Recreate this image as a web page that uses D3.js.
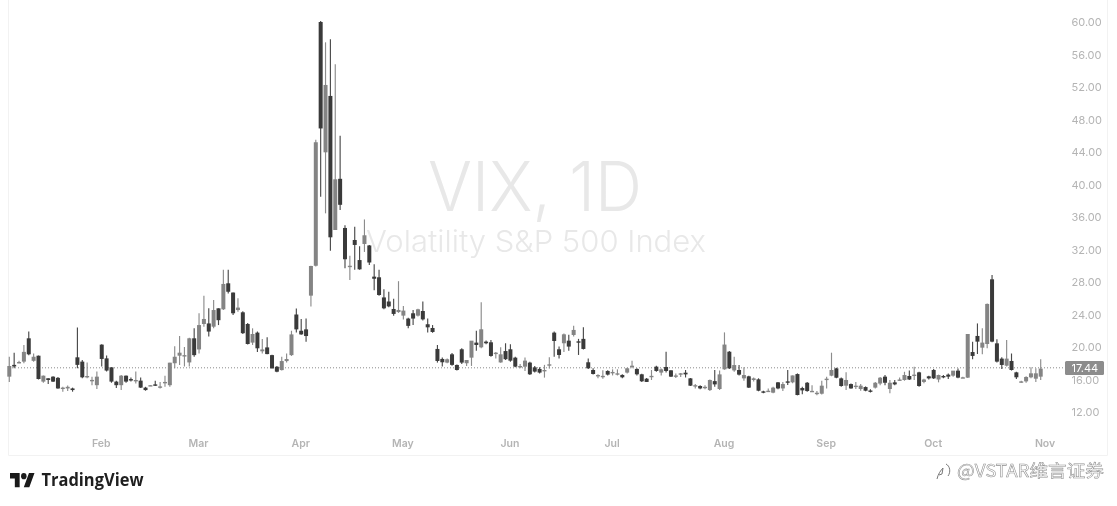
<!DOCTYPE html>
<html><head><meta charset="utf-8">
<script src="https://cdn.jsdelivr.net/npm/d3@7/dist/d3.min.js"></script>
<style>html,body{margin:0;padding:0;background:#fff;overflow:hidden}svg{display:block}</style>
</head><body><svg id="c" width="1117" height="506"></svg>
<script>
// Daily VIX candles, one entry per session, starting 7 Jan
const opens=[16.35,17.8,18.0,18.2,21.07,18.3,18.93,15.74,16.15,16.35,
16.2,14.9,14.9,14.9,18.73,18.2,16.27,15.85,15.3,20.29,
18.6,17.5,15.74,15.3,16.47,16.05,15.8,15.86,15.0,15.25,
15.4,15.1,15.6,15.3,18.0,18.93,18.9,18.1,21.07,19.7,
22.83,22.9,22.5,24.76,24.64,27.84,26.7,24.55,24.27,22.83,
20.54,21.77,19.47,19.95,19.0,17.57,17.16,18.27,19.0,24.0,
22.0,22.17,26.32,30.0,60.0,43.96,50.9,34.4,40.7,34.65,
29.9,33.17,30.7,32.68,32.5,28.66,28.58,26.1,25.6,24.68,
24.3,23.86,23.5,24.15,23.86,24.43,22.8,22.34,19.76,18.53,
18.08,19.1,17.79,19.72,18.0,18.69,20.54,19.96,20.66,20.58,
19.2,18.1,19.5,19.72,18.69,17.5,17.58,18.08,17.5,17.3,
17.05,17.78,21.77,19.72,20.46,20.78,21.48,20.7,21.0,18.12,
17.17,16.45,16.35,17.05,16.76,16.64,16.56,16.85,17.6,17.3,
16.64,16.1,16.35,17.58,16.85,17.54,17.13,16.4,16.63,16.84,
16.14,15.2,15.2,14.95,14.7,15.8,14.83,17.25,19.42,17.12,
17.17,16.14,16.39,15.94,16.02,14.54,14.55,14.38,15.65,14.9,
15.77,15.65,16.67,14.95,15.6,14.55,14.32,14.25,16.05,16.47,
17.37,16.14,15.24,15.44,15.18,14.83,15.07,14.65,15.0,15.5,
16.35,14.83,15.65,15.95,15.94,16.43,16.5,16.88,15.7,16.39,
17.17,16.0,16.43,16.6,16.47,17.09,16.22,16.23,19.38,21.36,
19.92,20.37,28.33,20.45,18.57,17.7,18.28,16.88,15.65,15.77,
16.27,16.1,16.35];
const highs=[18.8,19.3,18.3,20.25,21.9,19.2,18.95,16.5,16.15,16.4,
16.3,15.1,15.25,15.0,22.4,18.4,18.1,16.35,16.97,20.35,
18.95,17.5,15.85,16.55,16.5,16.25,17.0,16.25,15.1,15.3,
15.85,15.7,16.47,18.07,20.1,21.35,20.0,21.15,22.3,24.15,
26.3,24.76,25.8,24.76,29.5,29.5,26.7,26.0,24.4,22.95,
22.3,21.9,21.0,21.2,19.05,17.65,18.8,19.2,22.0,24.75,
23.44,23.5,30.0,45.5,60.13,57.5,57.87,54.8,46.0,35.0,
31.24,34.8,32.4,35.7,32.55,30.2,29.5,27.1,26.8,25.95,
28.1,25.05,23.6,24.55,24.7,25.6,23.5,22.7,20.25,18.7,
18.6,19.25,17.85,19.85,18.25,18.8,22.0,25.5,20.8,20.85,
19.4,19.96,20.46,20.35,18.8,17.9,18.7,18.2,17.65,17.5,
17.8,18.73,21.9,20.05,21.65,21.5,22.63,21.0,22.43,18.6,
17.4,16.65,17.15,17.15,17.25,17.25,16.65,17.45,18.3,17.4,
16.7,16.2,17.17,17.7,17.35,19.43,17.15,16.75,16.8,17.17,
16.2,15.45,15.3,15.3,16.0,17.17,17.1,21.8,19.5,18.8,
17.8,17.5,16.45,16.25,16.15,14.62,14.9,15.1,15.7,15.7,
17.17,16.5,16.75,15.1,15.7,15.3,14.6,15.85,16.35,19.3,
17.45,16.25,16.88,15.5,15.7,15.45,15.15,14.8,15.7,16.3,
16.55,15.95,15.95,16.25,16.95,17.1,17.58,16.95,16.1,16.45,
17.3,16.6,16.55,16.75,16.95,17.35,16.35,16.3,20.66,22.9,
22.3,25.35,28.86,20.95,18.75,20.86,19.2,16.95,15.85,16.4,
17.5,17.38,18.48];
const lows=[15.7,17.4,18.0,18.0,19.0,18.2,16.0,15.6,15.45,15.7,
14.85,14.5,14.6,14.5,17.4,16.15,16.15,15.3,14.83,17.6,
17.0,15.6,14.95,14.7,15.6,15.75,15.5,14.95,14.62,15.2,
15.2,14.9,15.1,15.1,17.4,17.8,17.6,17.6,18.8,19.2,
22.5,21.3,22.3,22.7,24.55,26.6,23.95,24.35,21.6,20.3,
20.25,19.4,19.2,19.1,17.35,16.9,17.1,18.1,18.9,21.8,
21.5,20.65,24.97,29.9,38.5,36.45,31.86,34.4,36.86,29.7,
28.25,29.5,29.5,31.7,30.1,27.0,26.3,24.65,24.9,23.85,
24.2,23.4,22.3,22.7,23.75,23.25,21.8,21.75,18.08,17.6,
18.0,17.68,17.1,17.9,17.67,17.67,19.55,19.85,20.35,18.8,
18.6,18.05,18.4,18.2,17.5,17.4,17.05,16.55,16.85,16.75,
16.23,17.34,18.8,18.6,19.4,19.55,21.3,19.02,19.7,17.3,
16.62,16.15,16.1,16.5,16.5,16.5,16.15,16.75,17.38,16.5,
15.7,15.7,15.94,16.95,16.5,16.85,16.3,16.2,16.3,16.25,
15.2,14.9,14.8,14.8,14.6,15.1,14.7,17.2,17.3,16.95,
16.5,15.85,14.95,15.75,14.55,14.3,14.45,14.3,14.8,14.6,
15.32,15.55,14.05,14.2,14.5,14.5,14.05,14.15,14.9,16.4,
16.15,15.1,14.7,14.85,14.82,14.62,14.55,14.4,14.9,15.3,
15.3,14.3,15.3,15.85,15.85,15.95,15.95,15.1,15.55,16.0,
16.05,15.65,16.15,16.05,16.35,16.15,16.2,16.2,18.48,19.14,
19.1,19.84,20.6,18.1,17.3,17.6,17.1,16.05,15.6,15.6,
16.15,15.7,15.94];
const closes=[17.66,17.6,18.15,19.4,19.1,18.8,16.06,16.47,15.94,15.74,
14.9,15.0,15.1,14.7,17.8,16.27,16.43,15.95,16.35,18.53,
17.1,15.74,15.3,16.47,15.74,15.94,15.94,15.0,14.7,15.3,
15.25,15.15,15.7,18.07,18.8,19.3,19.0,21.07,19.0,22.7,
23.45,21.9,24.55,23.3,27.76,26.8,24.15,24.85,21.7,20.37,
21.6,19.84,19.7,19.13,17.37,16.96,18.27,18.52,21.55,22.17,
21.55,21.35,29.97,45.2,46.9,52.25,33.5,40.64,37.5,30.8,
30.0,32.56,29.56,33.75,30.4,28.4,26.4,24.76,25.0,24.07,
24.56,24.48,22.6,23.5,24.64,23.4,22.42,21.85,18.28,18.12,
18.49,17.8,17.17,18.08,18.4,20.78,20.25,22.18,20.46,18.9,
19.3,19.1,18.5,18.32,17.58,17.66,18.32,16.64,16.97,16.85,
17.17,17.87,20.74,19.02,21.56,20.05,22.1,20.6,19.76,17.38,
16.68,16.55,16.45,16.6,16.93,16.76,16.27,17.38,17.7,16.64,
15.78,15.7,16.45,17.05,17.25,17.05,16.35,16.5,16.76,16.63,
15.24,15.3,14.9,15.1,15.94,15.4,16.63,20.3,17.37,17.78,
16.6,16.55,15.0,16.14,14.62,14.38,14.62,15.0,14.9,15.44,
15.6,16.5,14.09,14.66,14.58,14.6,14.37,15.24,16.1,17.17,
16.22,15.2,15.94,14.9,15.24,15.24,14.62,14.55,15.6,16.22,
15.6,15.6,15.4,16.0,16.55,16.0,16.6,15.2,16.0,16.14,
16.14,16.55,16.35,16.35,17.09,16.23,16.27,21.6,18.9,20.66,
20.54,25.3,20.66,18.2,17.79,18.57,17.17,16.27,15.77,16.31,
16.76,16.76,17.34];
const priceTicks=[12,16,20,24,28,32,36,40,44,48,52,56,60];
const monthLabels=["Feb","Mar","Apr","May","Jun","Jul","Aug","Sep","Oct","Nov"];
const monthStarts=[19,39,60,81,103,124,147,168,190,213];
const lastPrice=17.44;
const titleText="VIX, 1D";
const subtitleText="Volatility S&P 500 Index";
const creditText="@VSTAR维言证券";

const UI='Inter,"Noto Sans CJK SC",sans-serif';
const svg=d3.select("#c");
const x=d3.scaleLinear().domain([0,212]).range([9.3,1040.7]);
const y=d3.scaleLinear().domain([12,60]).range([412,22]);
const root=svg.append("g").style("filter","blur(0.7px)");

// frame
root.append("path").attr("d","M8.5 0V455.5H1107.5V0").attr("fill","none").attr("stroke","#f2f2f2");

// watermark
root.append("text").attr("x",428).attr("y",211).attr("font-family",UI).attr("font-weight",300)
  .attr("font-size",68).attr("fill","#e8e8e8").attr("textLength",214).attr("lengthAdjust","spacingAndGlyphs").text(titleText);
root.append("text").attr("x",366).attr("y",251.5).attr("font-family",UI).attr("font-weight",300)
  .attr("font-size",30).attr("fill","#e8e8e8").attr("textLength",340).attr("lengthAdjust","spacingAndGlyphs").text(subtitleText);

// last price line
root.append("line").attr("x1",9).attr("x2",1064).attr("y1",y(lastPrice)).attr("y2",y(lastPrice))
  .attr("stroke","#8a8a8a").attr("stroke-width",1).attr("stroke-dasharray","1 2");

// candles
const idx=d3.range(opens.length);
const col=i=>closes[i]<opens[i]?"#3a3a3a":"#848484";
const wcol=i=>closes[i]<opens[i]?"#4a4a4a":"#8c8c8c";
const cg=root.append("g");
cg.selectAll("line").data(idx).join("line")
  .attr("x1",i=>x(i)).attr("x2",i=>x(i)).attr("y1",i=>y(highs[i])).attr("y2",i=>y(lows[i]))
  .attr("stroke",wcol).attr("stroke-width",1.15);
cg.selectAll("rect").data(idx).join("rect")
  .attr("x",i=>x(i)-2).attr("width",4)
  .attr("y",i=>y(Math.max(opens[i],closes[i])))
  .attr("height",i=>Math.max(1.4,Math.abs(y(opens[i])-y(closes[i]))))
  .attr("fill",col);

// axes
const yAxis=d3.axisRight(y).tickValues(priceTicks).tickSize(0).tickPadding(0).tickFormat(d3.format(".2f"));
const ya=root.append("g").attr("transform","translate(1071.5,0)").call(yAxis);
ya.select(".domain").remove();
ya.selectAll("text").attr("font-family",UI).attr("font-size",11).attr("fill","#b4b4b4");

const xt=d3.scaleLinear().domain([0,213]).range([x(0),x(213)]);
const xAxis=d3.axisBottom(xt).tickValues(monthStarts).tickSize(0).tickPadding(0).tickFormat((d,i)=>monthLabels[i]);
const xa=root.append("g").attr("transform","translate(-1,440)").call(xAxis);
xa.select(".domain").remove();
xa.selectAll("text").attr("font-family",UI).attr("font-size",10.5).attr("font-weight",600).attr("fill","#b4b4b4");

// last price tag
root.append("rect").attr("x",1065).attr("y",y(lastPrice)-6.8).attr("width",39).attr("height",14).attr("rx",1.5).attr("fill","#8c8c8c");
root.append("text").attr("x",1071.5).attr("y",y(lastPrice)+4).attr("font-family",UI).attr("font-size",11)
  .attr("fill","#fff").text(lastPrice.toFixed(2));

// TradingView logo
const logo=root.append("g").attr("transform","translate(10,470) scale(0.69,0.78)").attr("fill","#1a1a1a");
logo.append("path").attr("d","M14 22H7V11H0V4h14v18zM28 22h-8l7.5-18h8L28 22z");
logo.append("circle").attr("cx",20).attr("cy",8).attr("r",4);
root.append("text").attr("x",41.5).attr("y",486).attr("font-family",'"Open Sans",Inter,sans-serif').attr("font-size",18.5).attr("font-weight",700)
  .attr("fill","#1f1f1f").attr("textLength",102).attr("lengthAdjust","spacingAndGlyphs").text("TradingView");

// credit
const ic=root.append("g").attr("fill","none").attr("stroke","#777").attr("stroke-width",1);
ic.append("path").attr("d","M937 479c1-5 4-9 6-11l-1 6-3 1");
ic.append("path").attr("d","M946 464c4 2 5 8 2 12");
root.append("text").attr("x",957).attr("y",477).attr("font-family",'"Noto Sans CJK SC",sans-serif').attr("font-size",17.5)
  .attr("fill","#fff").attr("stroke","#8f8f8f").attr("stroke-width",0.55).attr("textLength",147).attr("lengthAdjust","spacingAndGlyphs").text(creditText);
</script></body></html>
